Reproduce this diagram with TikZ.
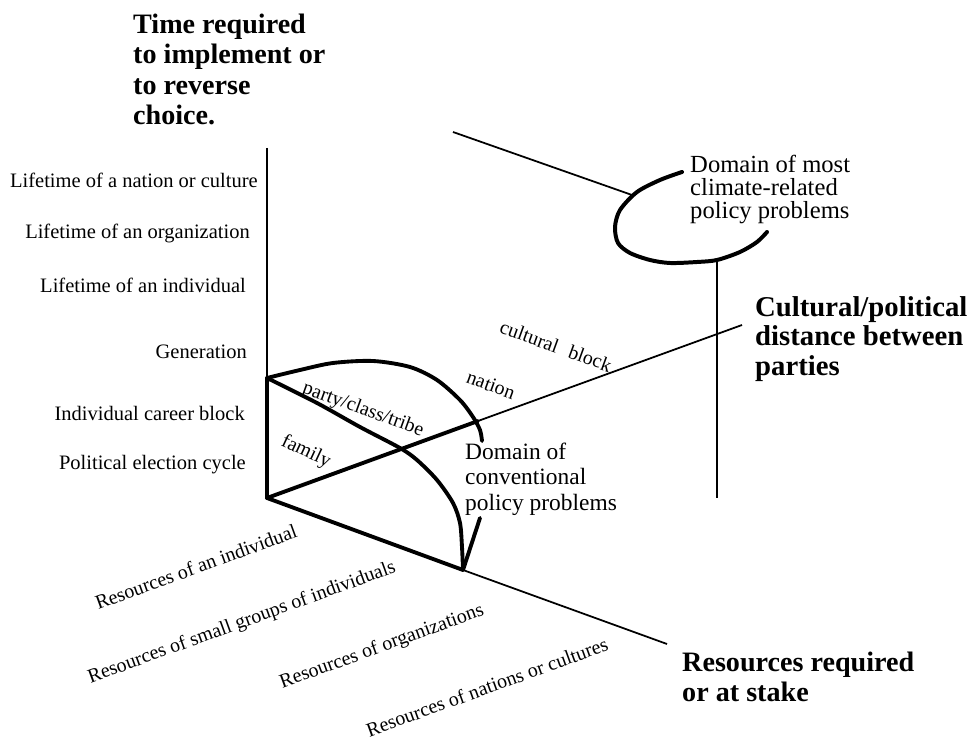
\documentclass[tikz,border=0pt]{standalone}
\usepackage{fontspec}
\setmainfont{Liberation Serif}

\begin{document}
\begin{tikzpicture}[x=0.03cm,y=-0.03cm,
  thinline/.style={line width=1.5pt},
  thickline/.style={line width=3.3pt, line cap=round, line join=round},
  timelabel/.style={font=\fontsize{17.5}{20}\selectfont, inner sep=0pt, anchor=east},
  reslabel/.style={font=\fontsize{17}{20}\selectfont, inner sep=0pt, rotate=20},
  distlabel/.style={font=\fontsize{17}{20}\selectfont, inner sep=0pt, rotate=-20},
  axistitle/.style={font=\fontsize{24}{25.8}\selectfont\bfseries, align=left, inner sep=0pt, anchor=north west}]

\useasboundingbox (0,0) rectangle (968,740);

\coordinate (O) at (267,498);
\coordinate (G) at (267,378);
\coordinate (Top) at (267,148);
\coordinate (R1) at (463,570);
\coordinate (REnd) at (667,644);
\coordinate (C1) at (478,421);
\coordinate (CEnd) at (742,325);
\coordinate (BackStart) at (453,132);
\coordinate (BackEnd) at (632,195);
\coordinate (VTop) at (717,260);
\coordinate (VBottom) at (717,498);
\coordinate (Pointer) at (480,518);

% axes
\draw[thinline] (Top) -- (G);
\draw[thickline] (G) -- (O);
\draw[thickline] (O) -- (R1);
\draw[thinline] (R1) -- (REnd);
\draw[thickline] (O) -- (C1);
\draw[thinline] (C1) -- (CEnd);
\draw[thinline] (BackStart) -- (BackEnd);
\draw[thinline] (VTop) -- (VBottom);

% conventional domain
\draw[thickline] plot[smooth] coordinates {(G) (300,370) (333,363) (373,361) (410,367) (437,380) (460,400) (473,417) (480,430) (482,441)};
\draw[thickline] plot[smooth] coordinates {(G) (317,403) (360,427) (400,448) (417,460) (437,480) (453,503) (460,523) (462,547) (R1)};
\draw[thickline] (R1) -- (Pointer);

% climate domain
\draw[line width=3.4pt, line cap=round] plot[smooth] coordinates {(682,172) (660,180) (637,192) (620,210) (615,227) (618,243) (630,253) (650,260) (670,263) (697,262) (717,260) (740,252) (757,242) (767,232)};

\node[axistitle] (timetitle) at (133,14) {Time required\\to implement or\\to reverse\\choice.};
\node[axistitle, font=\fontsize{24.5}{25.2}\selectfont\bfseries] (disttitle) at (755,296) {Cultural/political\\distance between\\parties};
\node[axistitle] (restitle) at (682,652) {Resources required\\or at stake};

\node[timelabel] (tnation) at (258,180) {Lifetime of a nation or culture};
\node[timelabel] (torg) at (250,233) {Lifetime of an organization};
\node[timelabel] (tind) at (246,285) {Lifetime of an individual};
\node[timelabel] (tgen) at (247,352) {Generation};
\node[timelabel] (tcareer) at (245,413) {Individual career block};
\node[timelabel] (telect) at (246,465) {Political election cycle};

\node[reslabel] (rind) at (196,567) {Resources of an individual};
\node[reslabel] (rgroup) at (242,623) {Resources of small groups of individuals};
\node[reslabel] (rorg) at (382,647) {Resources of organizations};
\node[reslabel] (rnation) at (487,687) {Resources of nations or cultures};

\node[distlabel, rotate=-5] (dfamily) at (306,452) {family};
\node[distlabel] (dparty) at (363,410) {party/class/tribe};
\node[distlabel] (dnation) at (491,385) {nation};
\node[distlabel] (dblock) at (556,346) {cultural\hspace{0.6em}block};

\node[align=left, inner sep=0pt, anchor=north west, font=\fontsize{20}{21.5}\selectfont] (convdomain) at (465,443) {Domain of\\conventional\\policy problems};
\node[align=left, inner sep=0pt, anchor=north west, font=\fontsize{21}{19.5}\selectfont] (climdomain) at (690,155) {Domain of most\\climate-related\\policy problems};

\end{tikzpicture}
\end{document}
